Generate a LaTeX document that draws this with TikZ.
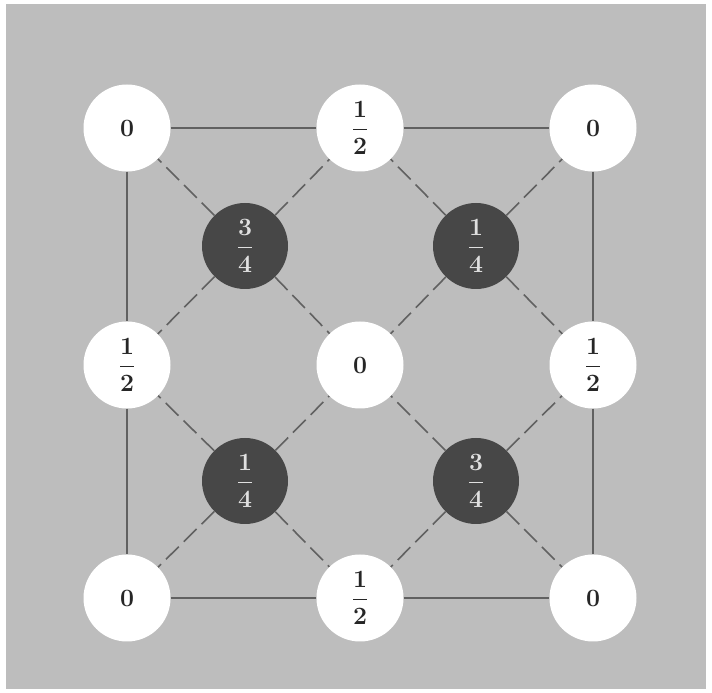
\documentclass[tikz,border=0pt]{standalone}
\usepackage{amsmath}
\begin{document}
\begin{tikzpicture}[x=1pt,y=1pt,
  lbl/.style={font=\fontsize{23}{27}\selectfont\boldmath},
  wnode/.style={circle,fill=white,minimum size=87pt,inner sep=0pt,lbl,text=black!85},
  dnode/.style={circle,fill=black!72,minimum size=86pt,inner sep=0pt,lbl,text=black!12},
  edge/.style={draw=black!62,line width=1.6pt},
  dedge/.style={draw=black!62,line width=1.6pt,dash pattern=on 18pt off 7pt}]
\useasboundingbox (0,0) rectangle (712,693);
\fill[white] (0,0) rectangle (712,693);
\fill[black!26] (6,4) rectangle (706,689);
% nodes
\node[wnode] (a1) at (127,565) {$0$};
\node[wnode] (a2) at (360,565) {$\dfrac{1}{2}$};
\node[wnode] (a3) at (593,565) {$0$};
\node[wnode] (b1) at (127,328) {$\dfrac{1}{2}$};
\node[wnode] (b2) at (360,328) {$0$};
\node[wnode] (b3) at (593,328) {$\dfrac{1}{2}$};
\node[wnode] (c1) at (127,95) {$0$};
\node[wnode] (c2) at (360,95) {$\dfrac{1}{2}$};
\node[wnode] (c3) at (593,95) {$0$};
\node[dnode] (d1) at (245,447) {$\dfrac{3}{4}$};
\node[dnode] (d2) at (476,447) {$\dfrac{1}{4}$};
\node[dnode] (d3) at (245,212) {$\dfrac{1}{4}$};
\node[dnode] (d4) at (476,212) {$\dfrac{3}{4}$};
% solid square
\draw[edge] (a1) -- (a2);
\draw[edge] (a2) -- (a3);
\draw[edge] (c1) -- (c2);
\draw[edge] (c2) -- (c3);
\draw[edge] (a1) -- (b1);
\draw[edge] (b1) -- (c1);
\draw[edge] (a3) -- (b3);
\draw[edge] (b3) -- (c3);
% dashed diagonals
\foreach \d/\p/\q/\r/\s in {d1/a1/a2/b1/b2, d2/a3/a2/b3/b2, d3/c1/c2/b1/b2, d4/c3/c2/b3/b2}{
  \draw[dedge] (\d) -- (\p);
  \draw[dedge] (\d) -- (\q);
  \draw[dedge] (\d) -- (\r);
  \draw[dedge] (\d) -- (\s);
}
\end{tikzpicture}
\end{document}
